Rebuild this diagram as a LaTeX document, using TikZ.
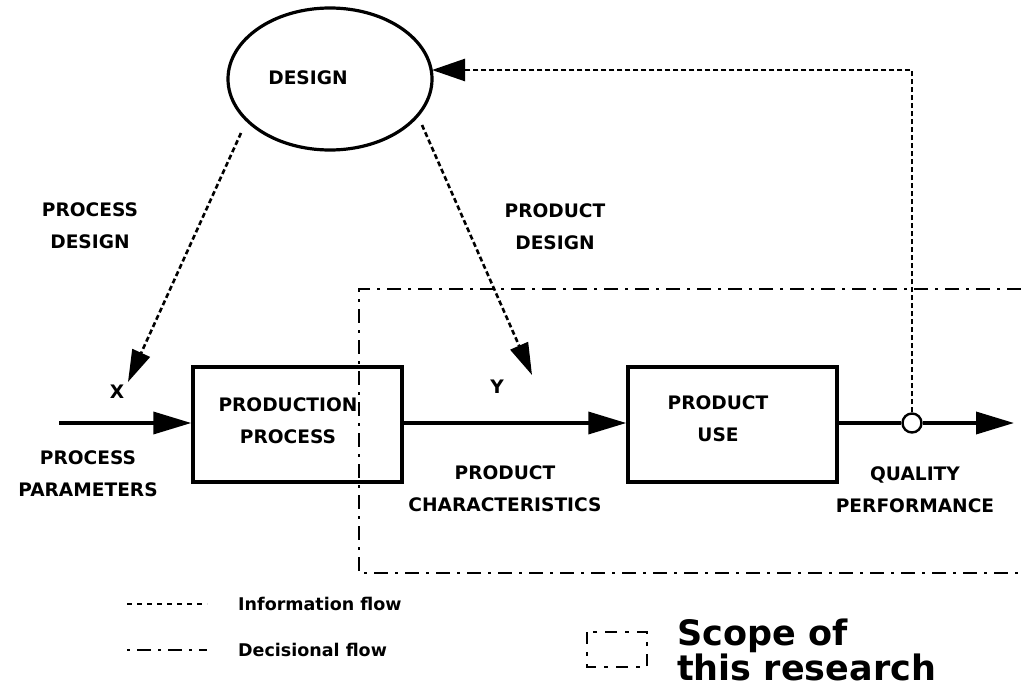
\documentclass[tikz,border=0pt]{standalone}
\usepackage{fontspec}
\setmainfont{DejaVu Sans}
\usetikzlibrary{arrows.meta,shapes.geometric}

\tikzset{
  lbl/.style={font=\bfseries\fontsize{18.6}{32}\selectfont, align=center, inner sep=0pt},
  legtxt/.style={font=\bfseries\fontsize{17.5}{20}\selectfont, anchor=west, inner sep=0pt},
  solidline/.style={line width=3.6pt},
  info/.style={line width=2.6pt, dash pattern=on 5pt off 3pt},
  decis/.style={line width=2.4pt, dash pattern=on 14pt off 7pt on 3pt off 7pt},
  bigtip/.style={-{Triangle[length=38pt,width=22pt]}},
  fbtip/.style={-{Triangle[length=33pt,width=22pt]}},
  dtip/.style={-{Triangle[length=32pt,width=19pt]}},
  blockbox/.style={draw, line width=3.4pt, minimum width=209pt, minimum height=115pt, inner sep=0pt},
}

\begin{document}
\begin{tikzpicture}[x=1pt,y=-1pt]
  \useasboundingbox (0,0) rectangle (1021,688);

  % design ellipse
  \node[draw, ellipse, line width=3.2pt, minimum width=204pt, minimum height=142pt] (design) at (330,79) {};
  \node[lbl] (designtxt) at (308,78) {DESIGN};

  % blocks
  \node[blockbox] (prod) at (297.5,424.5) {};
  \node[lbl] (prodtxt) at (288,421) {PRODUCTION\\PROCESS};
  \node[blockbox] (use) at (732.5,424.5) {};
  \node[lbl] (usetxt) at (718,419) {PRODUCT\\USE};

  % measuring point
  \node[circle, draw, fill=white, line width=2.4pt, minimum size=19pt, inner sep=0pt] (q) at (912,423) {};

  % free ends
  \coordinate (in) at (59,423);
  \coordinate (out) at (1014,423);
  \coordinate (fbcorner) at (912,70);
  \coordinate (fbend) at (432,70);
  \coordinate (pdstart) at (241,133);
  \coordinate (pdtip) at (128,382);
  \coordinate (prdstart) at (422,125);
  \coordinate (prdtip) at (532,375);

  % main flow
  \draw[solidline,bigtip] (in) -- (prod.west |- in);
  \draw[solidline,bigtip] (prod.east |- in) -- (use.west |- in);
  \draw[solidline] (use.east |- in) -- (q.west);
  \draw[solidline,bigtip] (q.east) -- (out);

  % information flows
  \draw[info,fbtip] (q.north) -- (fbcorner) -- (fbend);
  \draw[info,dtip] (pdstart) -- (pdtip);
  \draw[info,dtip] (prdstart) -- (prdtip);

  % scope of the research
  \coordinate (sc1) at (1021,289);
  \coordinate (sc2) at (359,573);
  \coordinate (sc3) at (1021,573);
  \draw[decis] (sc1) -| (sc2) -- (sc3);

  % labels
  \node[lbl] (xlab) at (117,392) {X};
  \node[lbl] (ylab) at (497,387) {Y};
  \node[lbl] (pdlab) at (90,226) {PROCESS\\DESIGN};
  \node[lbl] (prdlab) at (555,227) {PRODUCT\\DESIGN};
  \node[lbl] (pplab) at (88,474) {PROCESS\\PARAMETERS};
  \node[lbl] (pclab) at (505,489) {PRODUCT\\CHARACTERISTICS};
  \node[lbl] (qplab) at (915,490) {QUALITY\\PERFORMANCE};

  % legend
  \coordinate (l1a) at (127,604);
  \coordinate (l1b) at (207,604);
  \coordinate (l2a) at (127,650);
  \coordinate (l2b) at (207,650);
  \draw[info, line width=2pt, dash pattern=on 5pt off 5pt] (l1a) -- (l1b);
  \draw[decis, line width=2pt, dash pattern=on 3pt off 7pt on 14pt off 7pt] (l2a) -- (l2b);
  \node[legtxt] (l1txt) at (238,604) {Information flow};
  \node[legtxt] (l2txt) at (238,650) {Decisional flow};

  \draw[line width=2pt, dash pattern=on 12pt off 8pt on 4pt off 8pt] (587,632) rectangle (647,667);
  \node[font=\bfseries\fontsize{35}{27}\selectfont, align=left, anchor=north west, inner sep=0pt] (scope) at (677,619) {Scope of\\this research};
\end{tikzpicture}
\end{document}
